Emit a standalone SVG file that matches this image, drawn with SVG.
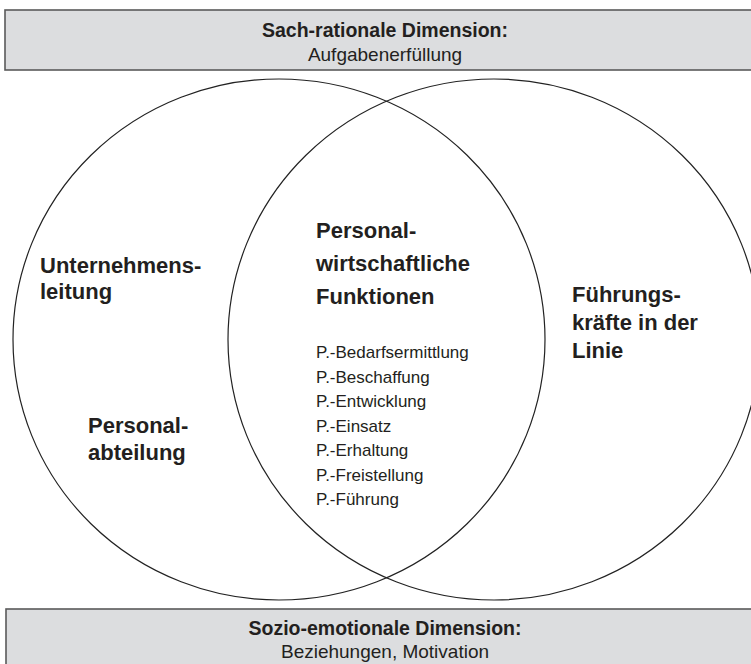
<svg xmlns="http://www.w3.org/2000/svg" width="751" height="664" viewBox="0 0 751 664">
<style>
.box{fill:#dcdddf;stroke:#5a5a5a;stroke-width:1.6}
.ring{fill:none;stroke:#222;stroke-width:1.2}
text{font-family:"Liberation Sans",Arial,sans-serif;fill:#231f20}
.bh{font-weight:bold;font-size:19.5px}
.br{font-size:19px}
.lbl{font-weight:bold;font-size:22px}
.it{font-size:17px}
</style>
<rect width="751" height="664" fill="#ffffff"/>
<g id="sach-box">
<rect class="box" x="5" y="10" width="760" height="60"/>
<text class="bh" x="385" y="37" text-anchor="middle">Sach-rationale Dimension:</text>
<text class="br" x="385" y="61" text-anchor="middle">Aufgabenerfüllung</text>
</g>
<g id="sozio-box">
<rect class="box" x="6" y="609" width="760" height="60"/>
<text class="bh" x="385" y="635" text-anchor="middle">Sozio-emotionale Dimension:</text>
<text class="br" x="385" y="658" text-anchor="middle">Beziehungen, Motivation</text>
</g>
<g id="left-circle">
<ellipse class="ring" cx="279" cy="339.5" rx="266" ry="260.5"/>
<text class="lbl" x="40" y="273">Unternehmens-</text>
<text class="lbl" x="40" y="299">leitung</text>
<text class="lbl" x="88" y="433">Personal-</text>
<text class="lbl" x="88" y="460">abteilung</text>
</g>
<g id="right-circle">
<ellipse class="ring" cx="494" cy="339.5" rx="266" ry="260.5"/>
<text class="lbl" x="572" y="302">Führungs-</text>
<text class="lbl" x="572" y="330">kräfte in der</text>
<text class="lbl" x="572" y="358">Linie</text>
</g>
<g id="overlap">
<text class="lbl" x="316" y="238">Personal-</text>
<text class="lbl" x="316" y="271">wirtschaftliche</text>
<text class="lbl" x="316" y="304">Funktionen</text>
<text class="it" x="316" y="358">P.-Bedarfsermittlung</text>
<text class="it" x="316" y="382.5">P.-Beschaffung</text>
<text class="it" x="316" y="407">P.-Entwicklung</text>
<text class="it" x="316" y="431.5">P.-Einsatz</text>
<text class="it" x="316" y="456">P.-Erhaltung</text>
<text class="it" x="316" y="480.5">P.-Freistellung</text>
<text class="it" x="316" y="505">P.-Führung</text>
</g>
</svg>
